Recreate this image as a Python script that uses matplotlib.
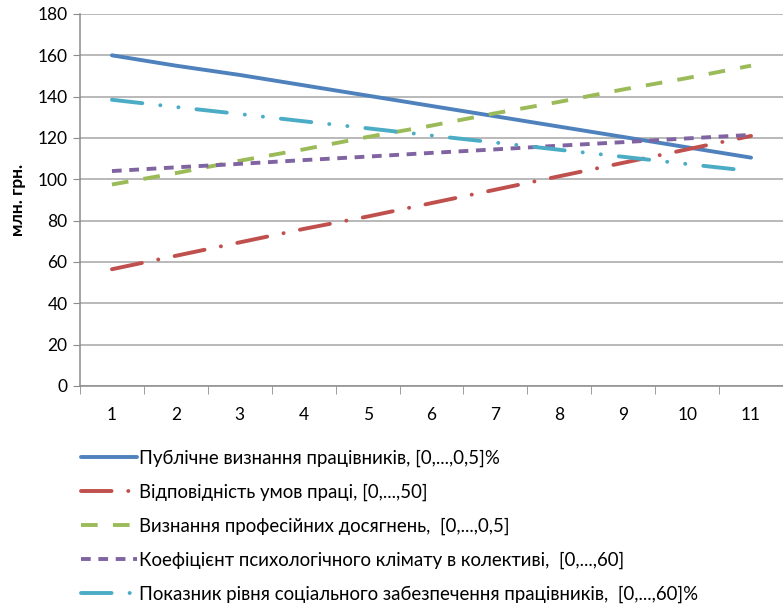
import matplotlib.pyplot as plt
import numpy as np

plt.rcParams['font.family'] = ['Lato', 'DejaVu Sans']
plt.rcParams['lines.scale_dashes'] = False

periods = list(range(1, 12))
tick_labels = [str(p) for p in periods]

public_recognition = [160, 155, 150.5, 145.5, 140.5, 135.5, 130.5, 125.5, 120.5, 115.5, 110.5]
work_conditions = [56.5, 63, 69.5, 76, 82, 88.5, 95, 101.5, 108, 114.5, 121]
prof_achievements = [97.5, 103, 109, 114.5, 120.5, 126, 132, 137.5, 143.5, 149, 155]
psych_climate = [104, 105.8, 107.5, 109.3, 111, 112.8, 114.5, 116.3, 118, 119.8, 121.5]
social_security = [138.5, 135, 131.6, 128.1, 124.7, 121.2, 117.8, 114.3, 110.9, 107.4, 104]

series = [
    ('Публічне визнання працівників, [0,...,0,5]%', public_recognition, '#4F81BD', '-', 'butt'),
    ('Відповідність умов праці, [0,...,50]', work_conditions, '#C0504D', (0, (22, 12, 0.1, 12)), 'round'),
    ('Визнання професійних досягнень,  [0,...,0,5]', prof_achievements, '#9BBB59', (0, (12, 11)), 'butt'),
    ('Коефіцієнт психологічного клімату в колективі,  [0,...,60]', psych_climate, '#8064A2', (0, (7, 5.5)), 'butt'),
    ('Показник рівня соціального забезпечення працівників,  [0,...,60]%', social_security, '#4BACC6',
     (0, (22, 13, 0.1, 13, 0.1, 13)), 'round'),
]

fig = plt.figure(figsize=(7.83, 6.13), dpi=100)
ax = fig.add_axes([80 / 783, 1 - 386 / 613, 1 - 80 / 783, (386 - 14) / 613])

for label, vals, color, ls, cap in series:
    ax.plot(periods, vals, color=color, linestyle=ls, linewidth=2.8, label=label,
            dash_capstyle=cap, solid_capstyle='round')

ax.set_xlim(0.5, 11.5)
ax.set_ylim(0, 180)
ax.set_yticks(np.arange(0, 181, 20))
ax.yaxis.grid(True, color='#a6a6a6', linewidth=1.1)
ax.set_axisbelow(True)

ax.set_xticks(periods)
ax.set_xticklabels(tick_labels)
ax.set_xticks(np.arange(0.5, 11.6, 1), minor=True)
ax.tick_params(axis='x', which='major', length=0, pad=15, labelsize=12.5)
ax.tick_params(axis='x', which='minor', length=6, color='#8c8c8c', direction='out')
ax.tick_params(axis='y', length=5, color='#8c8c8c', labelsize=12.5, pad=4)

for side in ['top', 'right']:
    ax.spines[side].set_visible(False)
for side in ['left', 'bottom']:
    ax.spines[side].set_color('#8c8c8c')
    ax.spines[side].set_linewidth(1.1)

ax.set_ylabel('млн. грн.', fontsize=12.5, fontweight='bold', labelpad=8)

handles, labels = ax.get_legend_handles_labels()
fig.legend(handles, labels, loc='upper left', bbox_to_anchor=(74 / 783, 1 - 442 / 613),
           frameon=False, fontsize=13.4, handlelength=3.0, handletextpad=0.1,
           labelspacing=0.9, borderaxespad=0)

fig.savefig('out.png', dpi=100)
